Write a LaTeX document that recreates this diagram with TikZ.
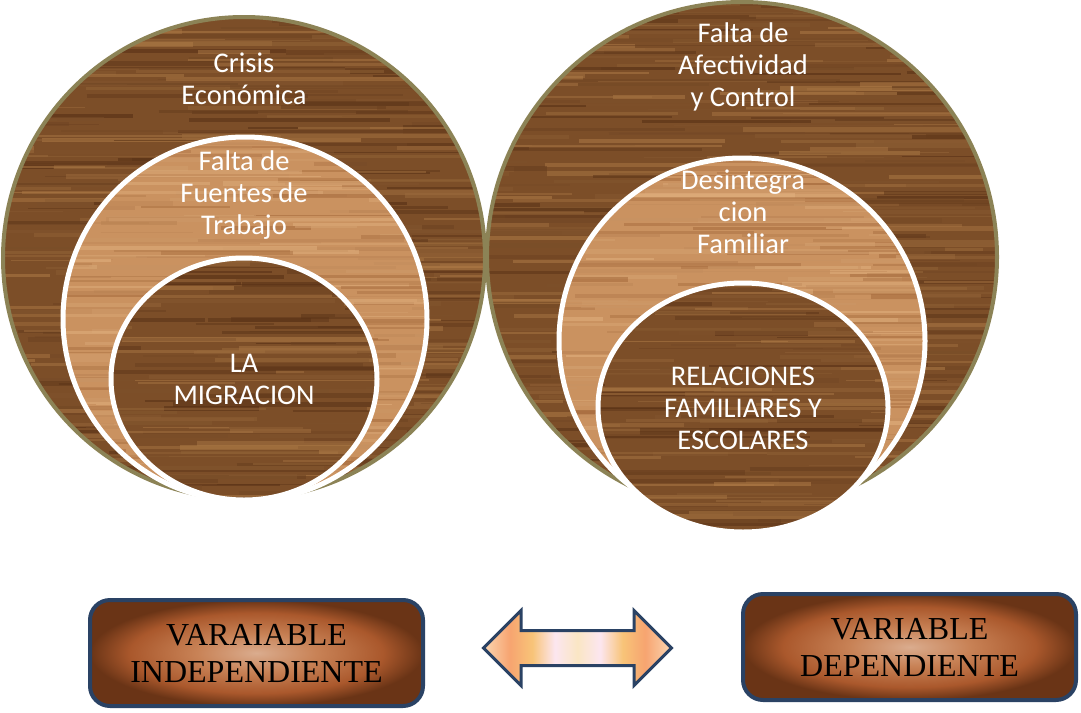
\documentclass[tikz,border=0pt]{standalone}
\usepackage{fontspec}
\setmainfont{Carlito}
\newfontfamily\timesfont{Liberation Serif}
\usetikzlibrary{shapes.arrows}

\definecolor{woodbase}{RGB}{124,78,40}
\definecolor{wooddark}{RGB}{78,40,16}
\definecolor{woodlight}{RGB}{180,128,74}
\definecolor{pinebase}{RGB}{202,146,96}
\definecolor{pinedark}{RGB}{160,100,54}
\definecolor{pinelight}{RGB}{228,180,130}
\definecolor{rimolive}{RGB}{140,131,86}
\definecolor{navyline}{RGB}{42,66,100}
\definecolor{boxlight}{RGB}{218,172,142}
\definecolor{boxmid}{RGB}{200,130,86}
\definecolor{boxrust}{RGB}{170,88,44}
\definecolor{boxdark}{RGB}{106,52,22}
\definecolor{arrpeach}{RGB}{250,214,178}
\definecolor{arrsalmon}{RGB}{247,164,112}
\definecolor{arrgold}{RGB}{248,196,120}
\definecolor{arrpink}{RGB}{252,230,240}
\definecolor{arrcream}{RGB}{250,230,196}

\pgfdeclareradialshading{boxshade}{\pgfpoint{0bp}{0bp}}{color(0bp)=(boxlight); color(9bp)=(boxmid); color(19bp)=(boxrust); color(25bp)=(boxdark); color(50bp)=(boxdark)}
\pgfdeclarehorizontalshading{arrowshade}{100bp}{color(0bp)=(arrpeach); color(25bp)=(arrpeach); color(32bp)=(arrsalmon); color(38bp)=(arrgold); color(44bp)=(arrpink); color(50bp)=(arrcream); color(56bp)=(arrpink); color(62bp)=(arrgold); color(68bp)=(arrsalmon); color(75bp)=(arrpeach); color(100bp)=(arrpeach)}

% grain: dark, light, xmin, ymin, rows, seed
\newcommand{\woodgrain}[6]{%
  \pgfmathsetseed{#6}%
  \foreach \row in {0,...,#5} {%
    \foreach \seg in {1,2,3} {%
      \pgfmathsetmacro\gy{#4+\row*4+2*rnd}%
      \pgfmathsetmacro\gx{#3-120+rnd*560}%
      \pgfmathsetmacro\gl{60+rnd*260}%
      \pgfmathtruncatemacro\gmix{100*rnd}%
      \pgfmathsetmacro\gw{1+4*rnd}%
      \draw[draw={#1!\gmix!#2}, line width=\gw pt, opacity=0.5] (\gx,\gy) -- (\gx+\gl,\gy);%
    }%
  }%
}

\begin{document}
\begin{tikzpicture}[x=1pt,y=-1pt,
    every node/.style={align=center},
    ringtext/.style={text=white, font=\fontsize{28.5}{32}\selectfont},
    varbox/.style={draw=navyline, line width=4pt, rounded corners=20pt, shading=boxshade,
      minimum width=333pt, minimum height=106pt, text=black,
      font=\timesfont\fontsize{32}{37}\selectfont},
    olive rim/.style={draw=rimolive, line width=4pt},
    white rim/.style={draw=white, line width=5pt}]
  \useasboundingbox (0,0) rectangle (1081,712);

  % left target
  \begin{scope}
    \clip (244,258) circle (241pt);
    \fill[woodbase] (0,0) rectangle (500,510);
    \woodgrain{wooddark}{woodlight}{0}{15}{124}{3}
  \end{scope}
  \draw[olive rim] (244,258) circle (241pt);
  \begin{scope}
    \clip (245,319) circle (182pt);
    \fill[pinebase] (0,0) rectangle (500,510);
    \woodgrain{pinedark}{pinelight}{60}{135}{94}{11}
  \end{scope}
  \draw[white rim] (245,319) circle (182pt);
  \begin{scope}
    \clip (244,379) ellipse [x radius=133pt, y radius=121pt];
    \fill[woodbase] (0,0) rectangle (500,510);
    \woodgrain{wooddark}{woodlight}{110}{255}{64}{17}
  \end{scope}
  \draw[white rim] (244,379) ellipse [x radius=133pt, y radius=121pt];

  % right target
  \begin{scope}
    \clip (742,257) circle (255pt);
    \fill[woodbase] (480,0) rectangle (1010,520);
    \woodgrain{wooddark}{woodlight}{485}{0}{131}{23}
  \end{scope}
  \draw[olive rim] (742,257) circle (255pt);
  \begin{scope}
    \clip (742,341) circle (183pt);
    \fill[pinebase] (480,0) rectangle (1010,540);
    \woodgrain{pinedark}{pinelight}{555}{155}{96}{29}
  \end{scope}
  \draw[white rim] (742,341) circle (183pt);
  \begin{scope}
    \clip (743,407.5) ellipse [x radius=145pt, y radius=124.5pt];
    \fill[woodbase] (480,0) rectangle (1010,540);
    \woodgrain{wooddark}{woodlight}{595}{280}{65}{31}
  \end{scope}
  \draw[white rim] (743,407.5) ellipse [x radius=145pt, y radius=124.5pt];

  \node[ringtext] (crisis) at (244,79) {Crisis\\Económica};
  \node[ringtext] (fuentes) at (244,195) {Falta de\\Fuentes de\\Trabajo};
  \node[ringtext] (migracion) at (244,379) {LA\\MIGRACION};
  \node[ringtext] (afectividad) at (743,67) {Falta de\\Afectividad\\y Control};
  \node[ringtext] (desintegracion) at (743,212) {Desintegra\\cion\\Familiar};
  \node[ringtext] (relaciones) at (743,408) {RELACIONES\\FAMILIARES Y\\ESCOLARES};

  \node[varbox] (indep) at (256.5,653) {VARAIABLE\\INDEPENDIENTE};
  \node[varbox] (dep) at (909.5,647) {VARIABLE\\DEPENDIENTE};
  \node[double arrow, draw=navyline, line width=3pt, shading=arrowshade,
    minimum height=188pt, inner xsep=0pt, inner ysep=16pt,
    double arrow head extend=20pt, double arrow tip angle=90] (link) at (577.5,648) {};
\end{tikzpicture}
\end{document}
